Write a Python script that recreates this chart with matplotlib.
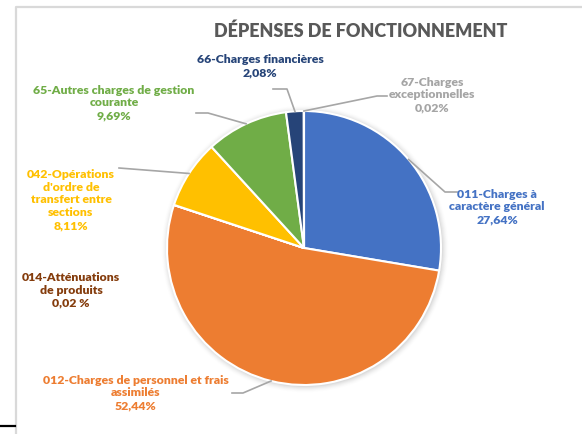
import numpy as np
import matplotlib
matplotlib.use("Agg")
import matplotlib.pyplot as plt
from matplotlib.patches import Circle

# ---- data ----
categories = [
    "011-Charges à\ncaractère général",
    "012-Charges de personnel et frais\nassimilés",
    "014-Atténuations\nde produits",
    "042-Opérations\nd'ordre de\ntransfert entre\nsections",
    "65-Autres charges de gestion\ncourante",
    "66-Charges financières",
    "67-Charges\nexceptionnelles",
]
values = [27.64, 52.44, 0.02, 8.11, 9.69, 2.08, 0.02]
pct_labels = ["27,64%", "52,44%", "0,02 %", "8,11%", "9,69%", "2,08%", "0,02%"]
colors = ["#4472C4", "#ED7D31", "#9E480E", "#FFC000", "#70AD47", "#264478", "#A5A5A5"]
label_colors = ["#4472C4", "#ED7D31", "#843C0C", "#FFC000", "#70AD47", "#264478", "#A5A5A5"]
title = "DÉPENSES DE FONCTIONNEMENT"

# ---- layout (pixel space, y measured from top) ----
W, H = 582, 435
cx, cy, R = 304, 249, 137
label_pos = [(497, 207), (136, 393), (71, 290), (71, 200), (114, 103), (260, 66), (432, 95)]
# leader line elbow points (elbow, end) or None
leaders = [
    [(445, 193), (457, 193)],
    [(243, 394), (232, 394)],
    None,
    [(119, 169)],
    [(208, 114), (196, 114)],
    [(287, 90), (273, 90)],
    [(377, 97), (387, 97)],
]

plt.rcParams['font.family'] = ['Lato', 'DejaVu Sans']
fig = plt.figure(figsize=(W / 100, H / 100), dpi=100)
ax = fig.add_axes([0, 0, 1, 1])
ax.set_xlim(0, W)
ax.set_ylim(0, H)
ax.set_aspect('equal')
ax.axis('off')

def Y(y):
    return H - y

# frame
ax.plot([15.5, 15.5, W], [0, Y(8), Y(8)], color="#D9D9D9", lw=1.6, solid_capstyle='butt')
ax.plot([0, 15], [Y(427), Y(427)], color="black", lw=1.6)

# soft shadow
for k, a in zip(range(7, 0, -1), [0.015, 0.02, 0.03, 0.04, 0.05, 0.06, 0.08]):
    ax.add_patch(Circle((cx + 1, Y(cy) - 1), R + k * 0.9, color="#808080", alpha=a, lw=0, zorder=1))

wedges, _ = ax.pie(values, colors=colors, startangle=90, counterclock=False,
                   center=(cx, Y(cy)), radius=R, frame=True,
                   wedgeprops=dict(edgecolor="white", linewidth=1.5, zorder=2))
ax.set_xlim(0, W)
ax.set_ylim(0, H)
ax.axis('off')

# labels and leaders
for i, w in enumerate(wedges):
    ang = np.deg2rad((w.theta1 + w.theta2) / 2)
    sx = cx + R * np.cos(ang)
    sy = Y(cy) + R * np.sin(ang)
    if leaders[i] is not None:
        xs = [sx] + [p[0] for p in leaders[i]]
        ys = [sy] + [Y(p[1]) for p in leaders[i]]
        ax.plot(xs, ys, color="#A6A6A6", lw=1.2, zorder=3)
    lx, ly = label_pos[i]
    ax.text(lx, Y(ly), categories[i] + "\n" + pct_labels[i], ha="center", va="center",
            multialignment="center", color=label_colors[i], fontsize=8.8,
            fontweight="heavy", linespacing=1.22)

ax.text(361, Y(31), title, ha="center", va="center", color="#595959",
        fontsize=13, fontweight="heavy")

fig.savefig("out.png", dpi=100)
